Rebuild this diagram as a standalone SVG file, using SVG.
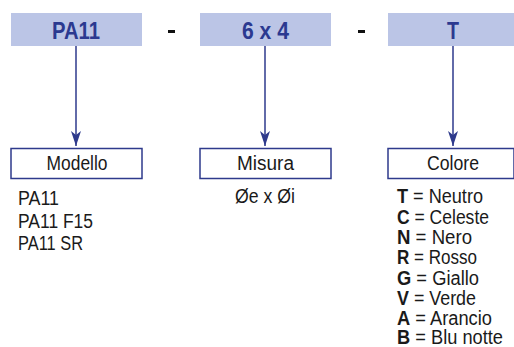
<svg xmlns="http://www.w3.org/2000/svg" width="514" height="347" viewBox="0 0 514 347">
<style>
.top{fill:#bbc5e6}
.tt{font-family:"Liberation Sans",Arial,sans-serif;font-weight:bold;font-size:23px;fill:#2b3990;text-anchor:middle}
.box{fill:#fff;stroke:#2e3a8c;stroke-width:1.5}
.bt{font-family:"Liberation Sans",Arial,sans-serif;font-size:20px;fill:#1a1a1a;text-anchor:middle}
.lt{font-family:"Liberation Sans",Arial,sans-serif;font-size:20px;fill:#1a1a1a}
.b{font-weight:bold}
.dash{stroke:#111;stroke-width:3}
.con{stroke:#2e3a8c;stroke-width:1.5;fill:none}
</style>
<defs>
<marker id="ah" viewBox="0 0 15 10" refX="15" refY="5" markerWidth="15" markerHeight="10" markerUnits="userSpaceOnUse" orient="auto">
<path d="M0,0 L15,5 L0,10 L4,5 Z" fill="#2e3a8c"/>
</marker>
</defs>
<g id="code-model">
<rect class="top" x="11" y="13" width="131" height="33"/>
<text class="tt" x="76" y="39" textLength="48" lengthAdjust="spacingAndGlyphs">PA11</text>
</g>
<line class="dash" x1="168" y1="31.5" x2="175" y2="31.5"/>
<g id="code-size">
<rect class="top" x="200" y="13" width="131" height="33"/>
<text class="tt" x="265.5" y="39" textLength="47" lengthAdjust="spacingAndGlyphs">6 x 4</text>
</g>
<line class="dash" x1="358" y1="31.5" x2="365" y2="31.5"/>
<g id="code-color">
<rect class="top" x="388" y="13" width="126" height="33"/>
<text class="tt" x="453" y="39" textLength="12" lengthAdjust="spacingAndGlyphs">T</text>
</g>
<g id="connectors">
<line class="con" x1="76" y1="46" x2="76" y2="146" marker-end="url(#ah)"/>
<line class="con" x1="265" y1="46" x2="265" y2="146" marker-end="url(#ah)"/>
<line class="con" x1="453" y1="46" x2="453" y2="146" marker-end="url(#ah)"/>
</g>
<g id="modello">
<rect class="box" x="11" y="148.5" width="131" height="30"/>
<text class="bt" x="77" y="170" textLength="61" lengthAdjust="spacingAndGlyphs">Modello</text>
<text class="lt" x="18" y="205" textLength="41" lengthAdjust="spacingAndGlyphs">PA11</text>
<text class="lt" x="18" y="227.5" textLength="75" lengthAdjust="spacingAndGlyphs">PA11 F15</text>
<text class="lt" x="18" y="250" textLength="65" lengthAdjust="spacingAndGlyphs">PA11 SR</text>
</g>
<g id="misura">
<rect class="box" x="200" y="148.5" width="131" height="30"/>
<text class="bt" x="265.5" y="170" textLength="57" lengthAdjust="spacingAndGlyphs">Misura</text>
<text class="bt" x="265" y="203" textLength="60" lengthAdjust="spacingAndGlyphs">Øe x Øi</text>
</g>
<g id="colore">
<rect class="box" x="388" y="148.5" width="126" height="30"/>
<text class="bt" x="453" y="170" textLength="52" lengthAdjust="spacingAndGlyphs">Colore</text>
<text class="lt" x="397" y="203" textLength="86" lengthAdjust="spacingAndGlyphs"><tspan class="b">T</tspan> = Neutro</text>
<text class="lt" x="397" y="223.5" textLength="92" lengthAdjust="spacingAndGlyphs"><tspan class="b">C</tspan> = Celeste</text>
<text class="lt" x="397" y="244" textLength="75" lengthAdjust="spacingAndGlyphs"><tspan class="b">N</tspan> = Nero</text>
<text class="lt" x="397" y="264" textLength="80" lengthAdjust="spacingAndGlyphs"><tspan class="b">R</tspan> = Rosso</text>
<text class="lt" x="397" y="284.5" textLength="82" lengthAdjust="spacingAndGlyphs"><tspan class="b">G</tspan> = Giallo</text>
<text class="lt" x="397" y="305" textLength="79" lengthAdjust="spacingAndGlyphs"><tspan class="b">V</tspan> = Verde</text>
<text class="lt" x="397" y="325" textLength="95" lengthAdjust="spacingAndGlyphs"><tspan class="b">A</tspan> = Arancio</text>
<text class="lt" x="397" y="344" textLength="106" lengthAdjust="spacingAndGlyphs"><tspan class="b">B</tspan> = Blu notte</text>
</g>
</svg>
